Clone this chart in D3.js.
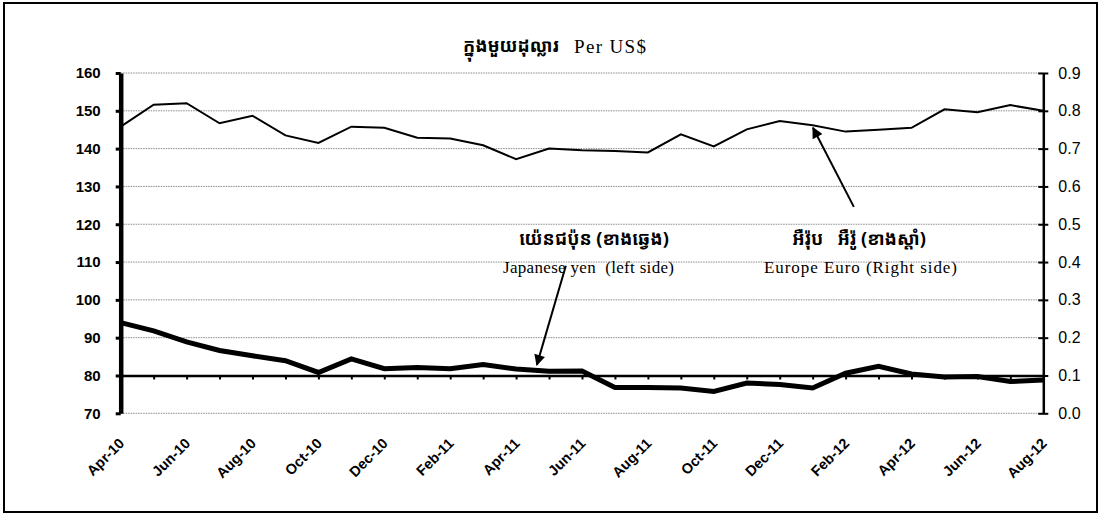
<!DOCTYPE html>
<html>
<head>
<meta charset="UTF-8">
<title>Yen and Euro per US$</title>
<script src="https://d3js.org/d3.v7.min.js"></script>
<style>
  body { margin: 0; background: #fff; }
  svg { display: block; }
  .ax text { font-family: Arial, "Liberation Sans", sans-serif; fill: #000; }
  .km { font-family: "Noto Sans Khmer", "Noto Serif Khmer", "Khmer OS", "DejaVu Sans", sans-serif; font-weight: bold; white-space: pre; }
  .tr { font-family: "Times New Roman", "Liberation Serif", serif; white-space: pre; }
</style>
</head>
<body>
<svg id="chart" width="1101" height="516"></svg>
<script>
// monthly rates, Apr-10 .. Aug-12
var months = ["Apr-10", "May-10", "Jun-10", "Jul-10", "Aug-10", "Sep-10", "Oct-10", "Nov-10", "Dec-10",
  "Jan-11", "Feb-11", "Mar-11", "Apr-11", "May-11", "Jun-11", "Jul-11", "Aug-11", "Sep-11", "Oct-11",
  "Nov-11", "Dec-11", "Jan-12", "Feb-12", "Mar-12", "Apr-12", "May-12", "Jun-12", "Jul-12", "Aug-12"];

// Japanese yen per US$ (left side)
var yen = [94.0, 91.8, 88.9, 86.6, 85.2, 83.9, 80.8, 84.4, 81.8, 82.1, 81.8, 82.9, 81.7, 81.1, 81.2,
  76.8, 76.8, 76.7, 75.8, 78.0, 77.6, 76.7, 80.6, 82.4, 80.4, 79.6, 79.7, 78.4, 78.8];

// Euro per US$ (right side)
var euro = [0.758, 0.816, 0.820, 0.767, 0.787, 0.735, 0.715, 0.758, 0.755, 0.729, 0.727, 0.709, 0.672,
  0.700, 0.696, 0.694, 0.690, 0.738, 0.706, 0.751, 0.773, 0.762, 0.745, 0.750, 0.755, 0.804, 0.796,
  0.815, 0.800];

var leftTicks = [70, 80, 90, 100, 110, 120, 130, 140, 150, 160];
var rightTicks = [0, 0.1, 0.2, 0.3, 0.4, 0.5, 0.6, 0.7, 0.8, 0.9];
var labelMonths = months.filter(function (d, i) { return i % 2 === 0; });

var titleKm = "ក្នុងមួយដុល្លារ";
var titleEn = "Per US$";
var yenKm = "យ៉េនជប៉ុន (ខាងឆ្វេង)";
var yenEn = "Japanese yen  (left side)";
var euroKm = "អឺរ៉ុប   អឺរ៉ូ (ខាងស្តាំ)";
var euroEn = "Europe Euro (Right side)";

var svg = d3.select("#chart");
var pLeft = 120.7, pRight = 1043.3, pTop = 73, pBottom = 413.3;

var x = d3.scalePoint().domain(months).range([pLeft, pRight]);
var yL = d3.scaleLinear().domain([70, 160]).range([pBottom, pTop]);
var yR = d3.scaleLinear().domain([0, 0.9]).range([pBottom, pTop]);
// fractional month index, for the annotation arrows
function xi(i) { return pLeft + i * x.step(); }

// outer frame
svg.append("rect")
  .attr("x", 4).attr("y", 3).attr("width", 1093).attr("height", 509)
  .attr("fill", "none").attr("stroke", "#000").attr("stroke-width", 2);

// dotted grid
svg.append("g").selectAll("line").data(leftTicks).enter().append("line")
  .attr("x1", pLeft).attr("x2", pRight)
  .attr("y1", function (d) { return yL(d); })
  .attr("y2", function (d) { return yL(d); })
  .attr("stroke", "#8a8a8a").attr("stroke-width", 1).attr("stroke-dasharray", "1.5,1");

// x axis sits at the 80 level
var xAxis = svg.append("g").attr("class", "ax")
  .attr("transform", "translate(0," + yL(80) + ")")
  .call(d3.axisBottom(x).tickSize(4).tickSizeOuter(0).tickFormat(""));
xAxis.select(".domain").attr("stroke-width", 2.5);
xAxis.selectAll(".tick line").attr("stroke-width", 2);

// month labels under the plot
var xLab = svg.append("g").attr("class", "ax")
  .attr("transform", "translate(0," + pBottom + ")")
  .call(d3.axisBottom(x).tickValues(labelMonths).tickSize(0));
xLab.select(".domain").remove();
xLab.selectAll("text")
  .attr("font-size", "14.5px").attr("font-weight", "bold")
  .attr("text-anchor", "end")
  .attr("dy", null).attr("y", 0)
  .attr("transform", "translate(4,31) rotate(-45)");

// left axis
var aL = svg.append("g").attr("class", "ax")
  .attr("transform", "translate(" + pLeft + ",0)")
  .call(d3.axisLeft(yL).tickValues(leftTicks).tickSize(5).tickSizeOuter(0).tickPadding(15));
aL.select(".domain").attr("stroke-width", 4.5);
aL.selectAll(".tick line").attr("stroke-width", 3);
aL.selectAll("text").attr("font-size", "15px").attr("font-weight", "bold");

// right axis
var aR = svg.append("g").attr("class", "ax")
  .attr("transform", "translate(" + pRight + ",0)")
  .call(d3.axisRight(yR).tickValues(rightTicks).tickSize(5).tickSizeOuter(0).tickPadding(10)
    .tickFormat(d3.format(".1f")));
aR.select(".domain").attr("stroke-width", 2.5);
aR.selectAll(".tick line").attr("x1", -5).attr("stroke-width", 2);
aR.selectAll("text").attr("font-size", "16px");

// series
var lineL = d3.line().x(function (d, i) { return x(months[i]); }).y(function (d) { return yL(d); });
var lineR = d3.line().x(function (d, i) { return x(months[i]); }).y(function (d) { return yR(d); });

svg.append("path").datum(euro).attr("d", lineR)
  .attr("fill", "none").attr("stroke", "#000").attr("stroke-width", 2).attr("stroke-linejoin", "miter");
svg.append("path").datum(yen).attr("d", lineL)
  .attr("fill", "none").attr("stroke", "#000").attr("stroke-width", 5).attr("stroke-linejoin", "miter");

// title
svg.append("text").attr("class", "km")
  .attr("x", 511).attr("y", 52).attr("text-anchor", "middle").attr("font-size", "18px")
  .text(titleKm);
svg.append("text").attr("class", "tr")
  .attr("x", 574).attr("y", 53).attr("font-size", "19px")
  .attr("textLength", 72).attr("lengthAdjust", "spacing")
  .text(titleEn);

// annotations
var defs = svg.append("defs");
defs.append("marker").attr("id", "head")
  .attr("viewBox", "0 0 10 10").attr("refX", 9).attr("refY", 5)
  .attr("markerWidth", 14).attr("markerHeight", 11)
  .attr("markerUnits", "userSpaceOnUse").attr("orient", "auto")
  .append("path").attr("d", "M0,0L10,5L0,10z").attr("fill", "#000");

svg.append("text").attr("class", "km")
  .attr("x", 594).attr("y", 245).attr("text-anchor", "middle").attr("font-size", "18px")
  .text(yenKm);
svg.append("text").attr("class", "tr")
  .attr("x", 503).attr("y", 273).attr("font-size", "17px")
  .attr("textLength", 171).attr("lengthAdjust", "spacing")
  .text(yenEn);

svg.append("text").attr("class", "km")
  .attr("x", 859).attr("y", 245).attr("text-anchor", "middle").attr("font-size", "18px")
  .text(euroKm);
svg.append("text").attr("class", "tr")
  .attr("x", 764).attr("y", 273).attr("font-size", "17px")
  .attr("textLength", 193).attr("lengthAdjust", "spacing")
  .text(euroEn);

svg.append("line")
  .attr("x1", xi(13.51)).attr("y1", yL(109))
  .attr("x2", xi(12.63)).attr("y2", yL(82.8))
  .attr("stroke", "#000").attr("stroke-width", 2).attr("marker-end", "url(#head)");
svg.append("line")
  .attr("x1", xi(22.25)).attr("y1", yR(0.546))
  .attr("x2", xi(21.01)).attr("y2", yR(0.755))
  .attr("stroke", "#000").attr("stroke-width", 2).attr("marker-end", "url(#head)");
</script>
</body>
</html>
